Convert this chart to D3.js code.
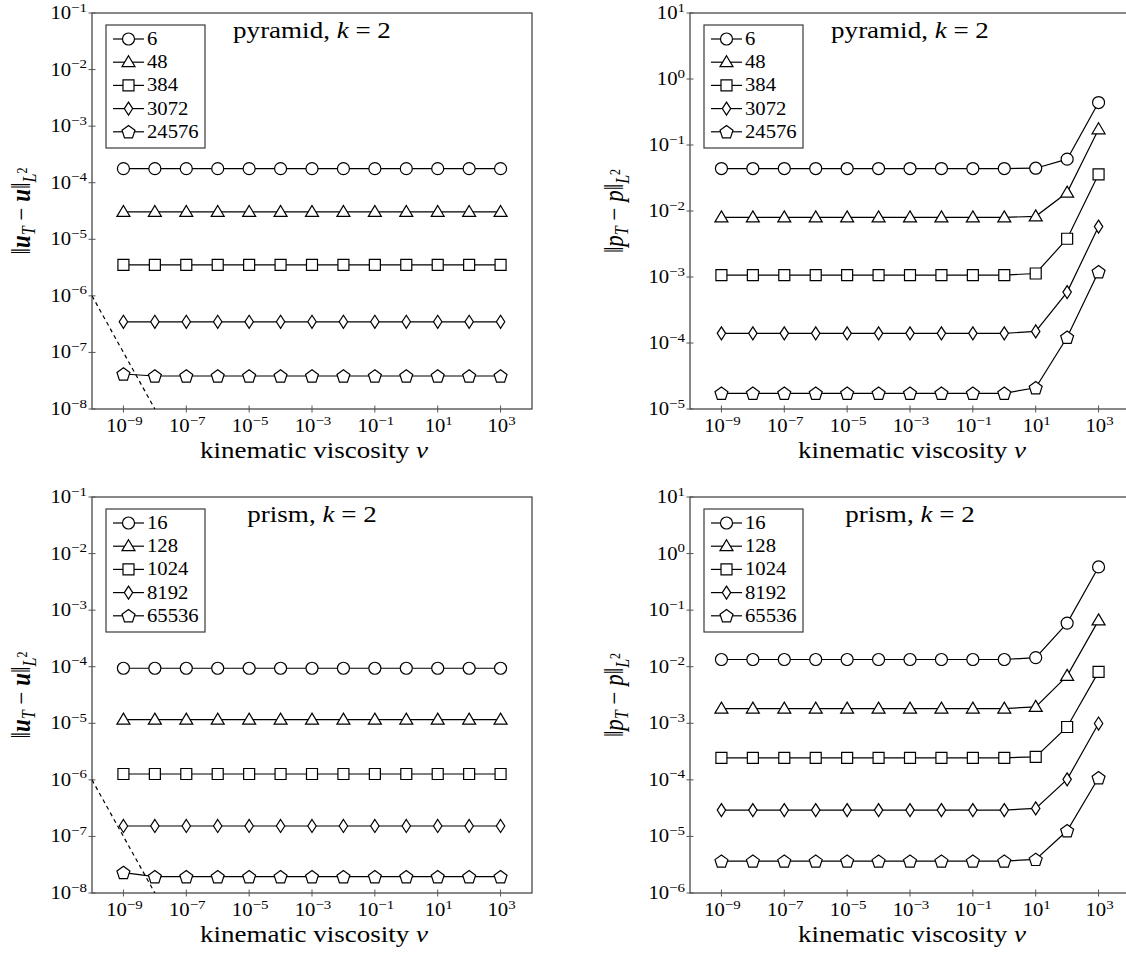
<!DOCTYPE html>
<html>
<head>
<meta charset="utf-8">
<script src="https://cdn.jsdelivr.net/npm/d3@7"></script>
<style>
  body { margin: 0; background: #fff; }
  svg { display: block; }
  text { font-family: "Liberation Serif", "Times New Roman", serif; fill: #000; }
</style>
</head>
<body>
<svg id="chart" width="1126" height="958"></svg>
<script>
// viscosity values (x axis)
const nu = [1e-9, 1e-8, 1e-7, 1e-6, 1e-5, 1e-4, 1e-3, 1e-2, 1e-1, 1e0, 1e1, 1e2, 1e3];
const xTicks = [1e-9, 1e-7, 1e-5, 1e-3, 1e-1, 1e1, 1e3];

// pyramid, velocity error
const pyrLabels = ['6', '48', '384', '3072', '24576'];
const pyrU6 = [1.77e-4, 1.77e-4, 1.77e-4, 1.77e-4, 1.77e-4, 1.77e-4, 1.77e-4, 1.77e-4, 1.77e-4, 1.77e-4, 1.77e-4, 1.77e-4, 1.77e-4];
const pyrU48 = [3.04e-5, 3.04e-5, 3.04e-5, 3.04e-5, 3.04e-5, 3.04e-5, 3.04e-5, 3.04e-5, 3.04e-5, 3.04e-5, 3.04e-5, 3.04e-5, 3.04e-5];
const pyrU384 = [3.53e-6, 3.53e-6, 3.53e-6, 3.53e-6, 3.53e-6, 3.53e-6, 3.53e-6, 3.53e-6, 3.53e-6, 3.53e-6, 3.53e-6, 3.53e-6, 3.53e-6];
const pyrU3072 = [3.48e-7, 3.48e-7, 3.48e-7, 3.48e-7, 3.48e-7, 3.48e-7, 3.48e-7, 3.48e-7, 3.48e-7, 3.48e-7, 3.48e-7, 3.48e-7, 3.48e-7];
const pyrU24576 = [4.16e-8, 3.83e-8, 3.83e-8, 3.83e-8, 3.83e-8, 3.83e-8, 3.83e-8, 3.83e-8, 3.83e-8, 3.83e-8, 3.83e-8, 3.83e-8, 3.83e-8];

// pyramid, pressure error
const pyrP6 = [4.4e-2, 4.4e-2, 4.4e-2, 4.4e-2, 4.4e-2, 4.4e-2, 4.4e-2, 4.4e-2, 4.4e-2, 4.4e-2, 4.45e-2, 6.1e-2, 0.44];
const pyrP48 = [8.0e-3, 8.0e-3, 8.0e-3, 8.0e-3, 8.0e-3, 8.0e-3, 8.0e-3, 8.0e-3, 8.0e-3, 8.0e-3, 8.3e-3, 1.9e-2, 0.173];
const pyrP384 = [1.07e-3, 1.07e-3, 1.07e-3, 1.07e-3, 1.07e-3, 1.07e-3, 1.07e-3, 1.07e-3, 1.07e-3, 1.07e-3, 1.13e-3, 3.8e-3, 3.6e-2];
const pyrP3072 = [1.4e-4, 1.4e-4, 1.4e-4, 1.4e-4, 1.4e-4, 1.4e-4, 1.4e-4, 1.4e-4, 1.4e-4, 1.4e-4, 1.5e-4, 5.9e-4, 5.8e-3];
const pyrP24576 = [1.73e-5, 1.73e-5, 1.73e-5, 1.73e-5, 1.73e-5, 1.73e-5, 1.73e-5, 1.73e-5, 1.73e-5, 1.73e-5, 2.1e-5, 1.22e-4, 1.2e-3];

// prism, velocity error
const priLabels = ['16', '128', '1024', '8192', '65536'];
const priU16 = [9.4e-5, 9.4e-5, 9.4e-5, 9.4e-5, 9.4e-5, 9.4e-5, 9.4e-5, 9.4e-5, 9.4e-5, 9.4e-5, 9.4e-5, 9.4e-5, 9.4e-5];
const priU128 = [1.16e-5, 1.16e-5, 1.16e-5, 1.16e-5, 1.16e-5, 1.16e-5, 1.16e-5, 1.16e-5, 1.16e-5, 1.16e-5, 1.16e-5, 1.16e-5, 1.16e-5];
const priU1024 = [1.27e-6, 1.27e-6, 1.27e-6, 1.27e-6, 1.27e-6, 1.27e-6, 1.27e-6, 1.27e-6, 1.27e-6, 1.27e-6, 1.27e-6, 1.27e-6, 1.27e-6];
const priU8192 = [1.53e-7, 1.53e-7, 1.53e-7, 1.53e-7, 1.53e-7, 1.53e-7, 1.53e-7, 1.53e-7, 1.53e-7, 1.53e-7, 1.53e-7, 1.53e-7, 1.53e-7];
const priU65536 = [2.3e-8, 1.94e-8, 1.94e-8, 1.94e-8, 1.94e-8, 1.94e-8, 1.94e-8, 1.94e-8, 1.94e-8, 1.94e-8, 1.94e-8, 1.94e-8, 1.94e-8];

// prism, pressure error
const priP16 = [1.34e-2, 1.34e-2, 1.34e-2, 1.34e-2, 1.34e-2, 1.34e-2, 1.34e-2, 1.34e-2, 1.34e-2, 1.34e-2, 1.45e-2, 5.9e-2, 0.58];
const priP128 = [1.82e-3, 1.82e-3, 1.82e-3, 1.82e-3, 1.82e-3, 1.82e-3, 1.82e-3, 1.82e-3, 1.82e-3, 1.82e-3, 1.95e-3, 6.9e-3, 6.6e-2];
const priP1024 = [2.45e-4, 2.45e-4, 2.45e-4, 2.45e-4, 2.45e-4, 2.45e-4, 2.45e-4, 2.45e-4, 2.45e-4, 2.45e-4, 2.55e-4, 8.6e-4, 8.1e-3];
const priP8192 = [2.92e-5, 2.92e-5, 2.92e-5, 2.92e-5, 2.92e-5, 2.92e-5, 2.92e-5, 2.92e-5, 2.92e-5, 2.92e-5, 3.13e-5, 1.02e-4, 9.9e-4];
const priP65536 = [3.66e-6, 3.66e-6, 3.66e-6, 3.66e-6, 3.66e-6, 3.66e-6, 3.66e-6, 3.66e-6, 3.66e-6, 3.66e-6, 3.93e-6, 1.26e-5, 1.09e-4];

// reference slope line (dashed)
const refNu = [1e-10, 1e-8];
const refErr = [1e-6, 1e-8];

const markers = ['circle', 'triangle', 'square', 'diamond', 'pentagon'];

const svg = d3.select('#chart');
const W = 440, H = 396;
const SX = 1.15;           // glyphs in the figure are a bit wider than Liberation Serif
const TICK_FS = 18, SUP_FS = 13;

function markerPath(type) {
  const p = d3.path();
  if (type === 'circle') {
    p.arc(0, 0, 6, 0, 2 * Math.PI);
  } else if (type === 'triangle') {
    p.moveTo(0, -6.5); p.lineTo(6.5, 4.5); p.lineTo(-6.5, 4.5); p.closePath();
  } else if (type === 'square') {
    p.rect(-5.5, -5.5, 11, 11);
  } else if (type === 'diamond') {
    p.moveTo(0, -6.5); p.lineTo(4.2, 0); p.lineTo(0, 6.5); p.lineTo(-4.2, 0); p.closePath();
  } else {
    for (let i = 0; i < 5; i++) {
      const a = -Math.PI / 2 + i * 2 * Math.PI / 5;
      const px = 6.8 * Math.cos(a), py = 6.8 * Math.sin(a) + 0.6;
      if (i === 0) p.moveTo(px, py); else p.lineTo(px, py);
    }
    p.closePath();
  }
  return p.toString();
}

// text inside a horizontally stretched group
function stext(parent, x, y, anchor, size, extra) {
  return parent.append('g')
    .attr('transform', `translate(${x},${y}) scale(${SX},1)${extra || ''}`)
    .append('text').attr('text-anchor', anchor).attr('font-size', size);
}

function powLabel(sel, exp) {
  sel.append('tspan').text('10');
  sel.append('tspan').attr('dy', -7.5).attr('font-size', SUP_FS)
    .text(exp < 0 ? '\u2212' + Math.abs(exp) : String(exp));
}

function drawPanel(cfg) {
  const g = svg.append('g').attr('transform', `translate(${cfg.x0},${cfg.y0})`);
  const x = d3.scaleLog().domain([1e-10, 1e4]).range([0, W]);
  const y = d3.scaleLog().domain(cfg.yDomain).range([H, 0]);

  const clipId = 'clip' + cfg.id;
  g.append('clipPath').attr('id', clipId).append('rect').attr('width', W).attr('height', H);

  // frame
  g.append('rect').attr('width', W).attr('height', H)
    .attr('fill', 'none').attr('stroke', '#3a3a3a').attr('stroke-width', 1.2);

  // y ticks
  const lo = Math.round(Math.log10(cfg.yDomain[0])), hi = Math.round(Math.log10(cfg.yDomain[1]));
  d3.range(lo, hi + 1).forEach(e => {
    const yy = y(Math.pow(10, e));
    g.append('line').attr('x1', -3.5).attr('x2', 3.5).attr('y1', yy).attr('y2', yy)
      .attr('stroke', '#555').attr('stroke-width', 1);
    powLabel(stext(g, -5, yy + 6, 'end', TICK_FS), e);
  });

  // x ticks
  xTicks.forEach(v => {
    const xx = x(v);
    g.append('line').attr('x1', xx).attr('x2', xx).attr('y1', H - 3.5).attr('y2', H + 3.5)
      .attr('stroke', '#555').attr('stroke-width', 1);
    powLabel(stext(g, xx + 1, H + 23, 'middle', TICK_FS), Math.round(Math.log10(v)));
  });

  // x label
  const xl = stext(g, W / 2 + 2, H + 49, 'middle', 23.5);
  xl.append('tspan').text('kinematic viscosity ');
  xl.append('tspan').attr('font-style', 'italic').text('\u03bd');

  // y label
  const yl = stext(g, cfg.ylabX, H / 2, 'middle', 23, ' rotate(-90)').attr('dy', 7);
  const sym = cfg.kind === 'u' ? 'u' : 'p';
  const symStyle = s => cfg.kind === 'u'
    ? s.attr('font-weight', 'bold').attr('font-style', 'italic')
    : s.attr('font-style', 'italic');
  yl.append('tspan').text('\u2016');
  symStyle(yl.append('tspan').text(sym));
  yl.append('tspan').attr('dy', 4).attr('font-size', 16).attr('font-style', 'italic').text('T');
  yl.append('tspan').attr('dy', -4).text(' \u2212 ');
  symStyle(yl.append('tspan').text(sym));
  yl.append('tspan').text('\u2016');
  yl.append('tspan').attr('dy', 5).attr('font-size', 16).attr('font-style', 'italic').text('L');
  yl.append('tspan').attr('dy', -8).attr('font-size', 12).text('2');

  // title
  const tt = stext(g, cfg.titleX, 25, 'middle', 23.5);
  tt.append('tspan').text(cfg.shape + ', ');
  tt.append('tspan').attr('font-style', 'italic').text('k');
  tt.append('tspan').text(' = 2');

  const plot = g.append('g').attr('clip-path', `url(#${clipId})`);

  if (cfg.dashed) {
    plot.append('path')
      .datum(refNu.map((v, i) => [v, refErr[i]]))
      .attr('d', d3.line().x(d => x(d[0])).y(d => y(d[1])))
      .attr('fill', 'none').attr('stroke', '#000').attr('stroke-width', 1.2)
      .attr('stroke-dasharray', '4,3.5');
  }

  const line = d3.line().x(d => x(d[0])).y(d => y(d[1]));
  cfg.series.forEach((s, i) => {
    const pts = nu.map((v, j) => [v, s[j]]);
    plot.append('path').datum(pts).attr('d', line)
      .attr('fill', 'none').attr('stroke', '#000').attr('stroke-width', 1.2);
    plot.selectAll(null).data(pts).enter().append('path')
      .attr('d', markerPath(markers[i]))
      .attr('transform', d => `translate(${x(d[0])},${y(d[1])})`)
      .attr('fill', '#fff').attr('stroke', '#000').attr('stroke-width', 1.2);
  });

  // legend
  const lg = g.append('g').attr('transform', 'translate(14,12)');
  lg.append('rect').attr('width', 99).attr('height', 123)
    .attr('fill', '#fff').attr('stroke', '#3a3a3a').attr('stroke-width', 1.2);
  cfg.labels.forEach((lab, i) => {
    const ly = 14 + i * 23.2;
    lg.append('line').attr('x1', 7).attr('x2', 38).attr('y1', ly).attr('y2', ly)
      .attr('stroke', '#000').attr('stroke-width', 1.2);
    lg.append('path').attr('d', markerPath(markers[i]))
      .attr('transform', `translate(22.5,${ly})`)
      .attr('fill', '#fff').attr('stroke', '#000').attr('stroke-width', 1.2);
    stext(lg, 41, ly + 6, 'start', 18).text(lab);
  });
}

drawPanel({ id: 'a', x0: 92, y0: 13, yDomain: [1e-8, 1e-1], kind: 'u', ylabX: -70,
  titleX: 220, shape: 'pyramid', dashed: true, labels: pyrLabels,
  series: [pyrU6, pyrU48, pyrU384, pyrU3072, pyrU24576] });
drawPanel({ id: 'b', x0: 690, y0: 13, yDomain: [1e-5, 1e1], kind: 'p', ylabX: -75,
  titleX: 220, shape: 'pyramid', dashed: false, labels: pyrLabels,
  series: [pyrP6, pyrP48, pyrP384, pyrP3072, pyrP24576] });
drawPanel({ id: 'c', x0: 92, y0: 497, yDomain: [1e-8, 1e-1], kind: 'u', ylabX: -70,
  titleX: 220, shape: 'prism', dashed: true, labels: priLabels,
  series: [priU16, priU128, priU1024, priU8192, priU65536] });
drawPanel({ id: 'd', x0: 690, y0: 497, yDomain: [1e-6, 1e1], kind: 'p', ylabX: -75,
  titleX: 220, shape: 'prism', dashed: false, labels: priLabels,
  series: [priP16, priP128, priP1024, priP8192, priP65536] });
</script>
</body>
</html>
